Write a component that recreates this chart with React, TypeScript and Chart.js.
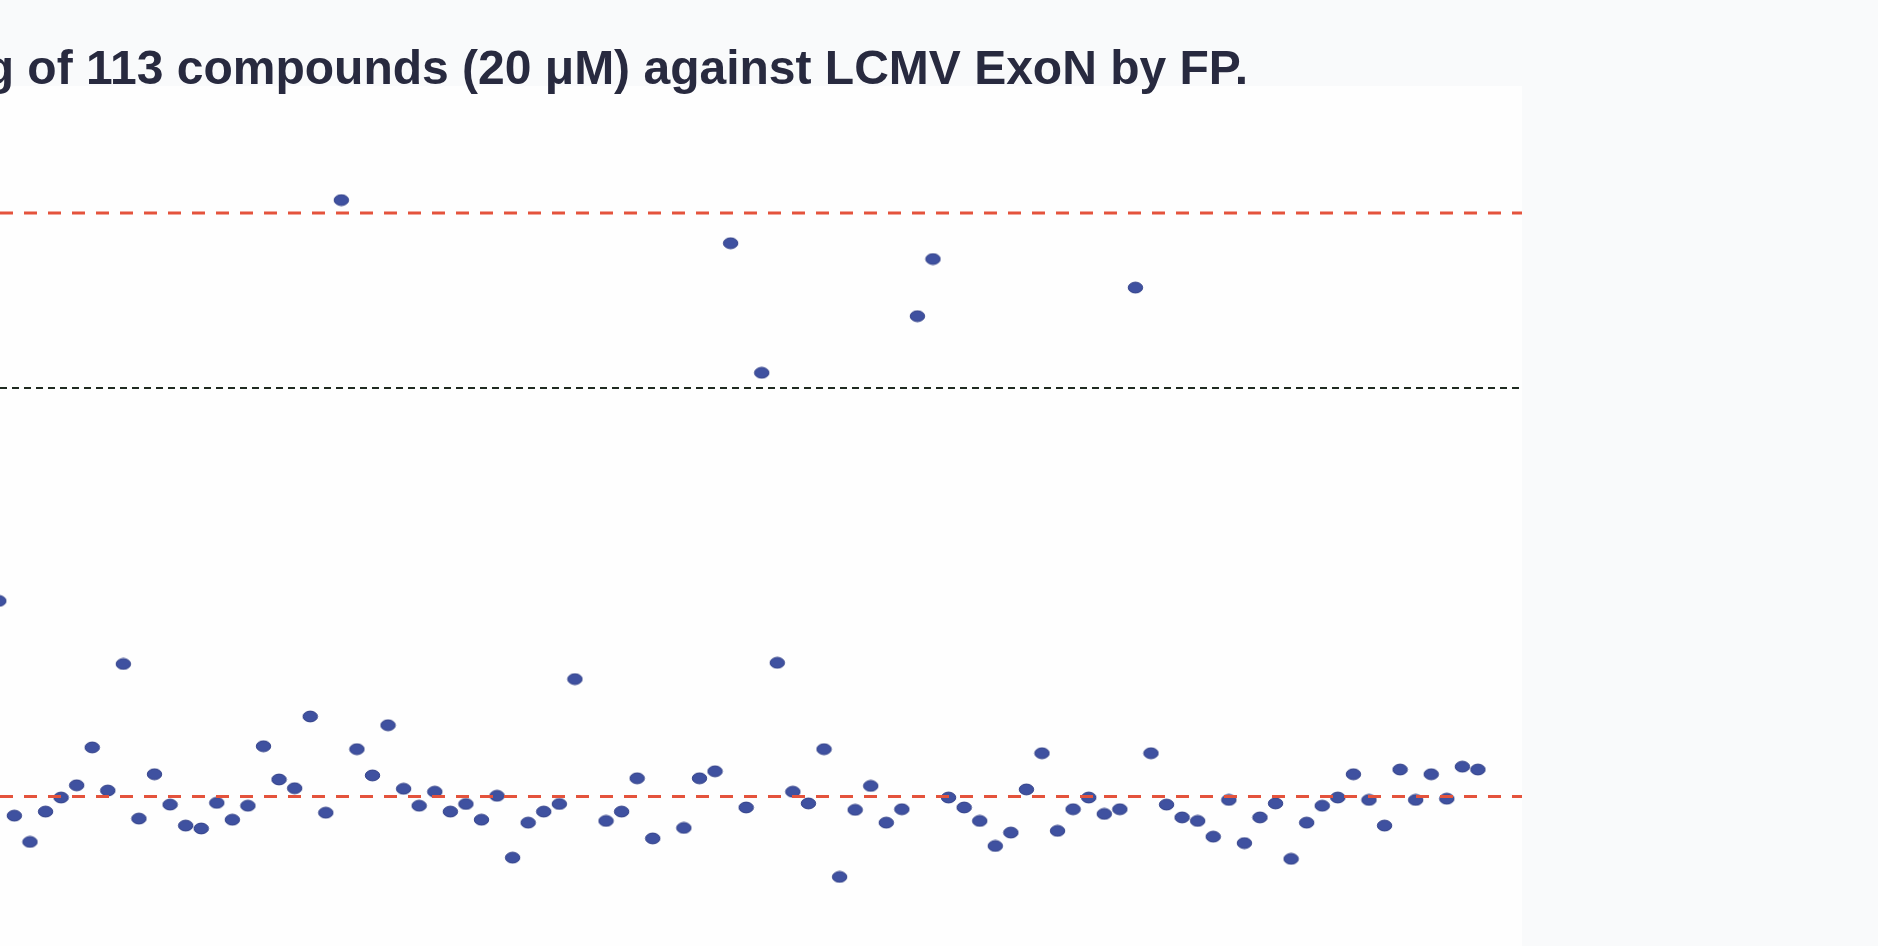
import React, { useEffect, useRef } from "react";
import { Chart, registerables } from "chart.js";

Chart.register(...registerables);

// Compound positions (well order) visible in the figure and their signal (% inhibition)
const compoundIndex: number[] = [
  0, 1, 2, 3, 4, 5, 6, 7, 8, 9, 10, 11, 12, 13, 14, 15, 16, 17, 18, 19, 20, 21, 22, 23, 24, 25,
  26, 27, 28, 29, 30, 31, 32, 33, 34, 35, 36, 37, 39, 40, 41, 42, 44, 45, 46, 47, 48, 49, 50,
  51, 52, 53, 54, 55, 56, 57, 58, 59, 60, 61, 62, 63, 64, 65, 66, 67, 68, 69, 70, 71, 72, 73,
  74, 75, 76, 77, 78, 79, 80, 81, 82, 83, 84, 85, 86, 87, 88, 89, 90, 91, 92, 93, 94, 95,
];
const inhibition: number[] = [
  33.5, -3.3, -7.8, -2.6, -0.2, 1.9, 8.4, 1.0, 22.7, -3.8, 3.8, -1.4, -5.0, -5.5, -1.1, -4.0,
  -1.6, 8.6, 2.9, 1.4, 13.7, -2.8, 102.2, 8.1, 3.6, 12.2, 1.3, -1.6, 0.8, -2.6, -1.3, -4.0, 0.1,
  -10.5, -4.5, -2.6, -1.3, 20.1, -4.2, -2.6, 3.1, -7.2, -5.4, 3.1, 4.3, 94.8, -1.9, 72.6, 22.9,
  0.8, -1.2, 8.1, -13.8, -2.3, 1.8, -4.5, -2.2, 82.3, 92.1, -0.2, -1.9, -4.2, -8.5, -6.2, 1.2,
  7.4, -5.9, -2.2, -0.2, -3.0, -2.2, 87.2, 7.4, -1.4, -3.6, -4.2, -6.9, -0.6, -8.0, -3.6, -1.2,
  -10.7, -4.5, -1.6, -0.2, 3.8, -0.6, -5.0, 4.6, -0.6, 3.8, -0.4, 5.1, 4.6,
];
// Reference levels: positive control, hit threshold, negative control
const positiveControl = 100;
const hitThreshold = 70;
const negativeControl = 0;

const X_MIN = 0.077;
const X_MAX = 97.83;
const Y_MIN = -25.64;
const Y_MAX = 121.75;

function makeDot(): HTMLCanvasElement {
  const c = document.createElement("canvas");
  c.width = 17;
  c.height = 13;
  const g = c.getContext("2d")!;
  g.beginPath();
  g.ellipse(8.5, 6.5, 7.2, 5.4, 0, 0, Math.PI * 2);
  g.fillStyle = "#3f51a0";
  g.fill();
  g.lineWidth = 1;
  g.strokeStyle = "#2e3d86";
  g.stroke();
  return c;
}

export default function App() {
  const ref = useRef<HTMLCanvasElement | null>(null);

  useEffect(() => {
    if (!ref.current) return;
    const dot = makeDot();
    const line = (y: number) => [
      { x: X_MIN, y },
      { x: X_MAX, y },
    ];
    const chart = new Chart(ref.current, {
      type: "scatter",
      data: {
        datasets: [
          {
            type: "line",
            label: "Positive control",
            data: line(positiveControl),
            borderColor: "#e4533c",
            borderWidth: 3,
            borderDash: [13, 11],
            pointRadius: 0,
            fill: false,
          },
          {
            type: "line",
            label: "Hit threshold",
            data: line(hitThreshold),
            borderColor: "#1f2a20",
            borderWidth: 2,
            borderDash: [7, 5],
            pointRadius: 0,
            fill: false,
          },
          {
            type: "line",
            label: "Negative control",
            data: line(negativeControl),
            borderColor: "#e4533c",
            borderWidth: 3,
            borderDash: [13, 11],
            pointRadius: 0,
            fill: false,
          },
          {
            label: "Compounds",
            data: compoundIndex.map((x, i) => ({ x, y: inhibition[i] })),
            pointStyle: dot as any,
            pointRadius: 7.5,
            backgroundColor: "#3f51a0",
            borderColor: "#2e3d86",
          },
        ],
      },
      options: {
        animation: false,
        responsive: false,
        maintainAspectRatio: false,
        layout: { padding: 0, autoPadding: false },
        plugins: { legend: { display: false }, tooltip: { enabled: false }, title: { display: false } },
        scales: {
          x: { type: "linear", min: X_MIN, max: X_MAX, display: false },
          y: { type: "linear", min: Y_MIN, max: Y_MAX, display: false },
        },
      },
    });
    return () => chart.destroy();
  }, []);

  return (
    <div
      style={{
        position: "fixed",
        left: 0,
        top: 0,
        width: 1878,
        height: 946,
        background: "#f9fafb",
        overflow: "hidden",
      }}
    >
      <div style={{ position: "absolute", left: 0, top: 86, width: 1522, height: 860, background: "#fefefe" }}>
        <canvas ref={ref} width={1522} height={860} style={{ display: "block", width: 1522, height: 860 }} />
      </div>
      <div
        style={{
          position: "absolute",
          right: 630,
          top: 44,
          whiteSpace: "nowrap",
          fontFamily: '"Liberation Sans", Arial, Helvetica, sans-serif',
          fontWeight: 700,
          fontSize: 48,
          lineHeight: "48px",
          color: "#282a3f",
        }}
      >
        Screening of 113 compounds (20 μM) against LCMV ExoN by FP.
      </div>
    </div>
  );
}
